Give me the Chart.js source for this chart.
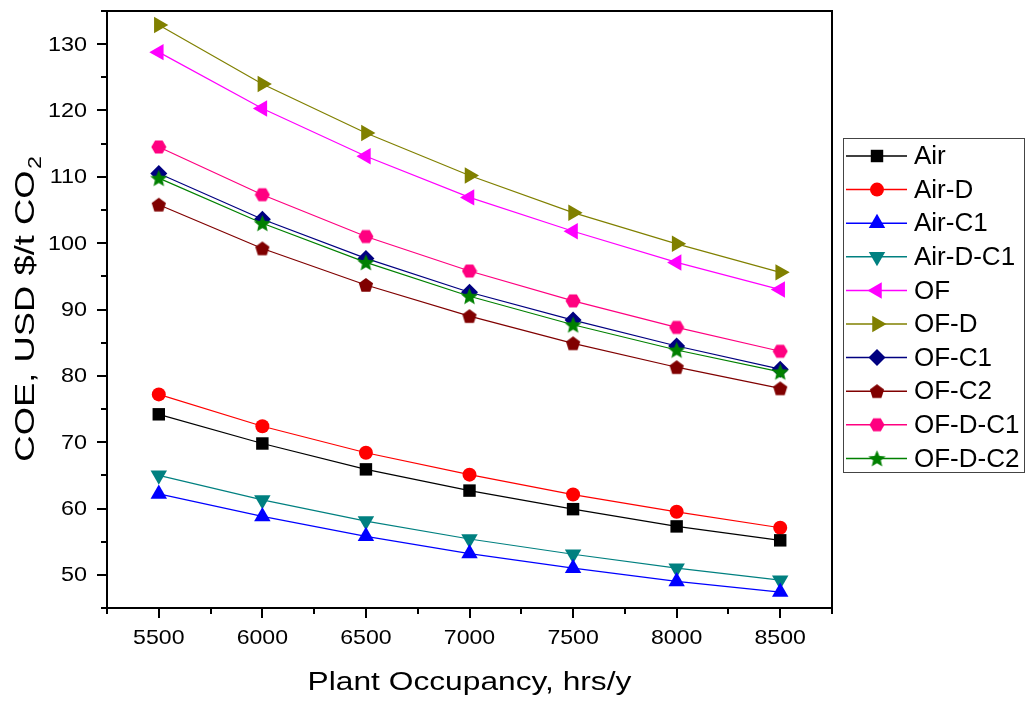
<!DOCTYPE html>
<html>
<head>
<meta charset="utf-8">
<script src="https://cdn.jsdelivr.net/npm/chart.js@4/dist/chart.umd.min.js"></script>
<style>
html,body{margin:0;padding:0;background:#fff;}
#wrap{width:1030px;height:702px;position:relative;}
</style>
</head>
<body>
<div id="wrap"><canvas id="c" width="1030" height="702"></canvas></div>
<script>
// ---- data ----
const occupancy = [5500, 6000, 6500, 7000, 7500, 8000, 8500];
const air    = [74.2, 69.8, 65.9, 62.7, 59.9, 57.3, 55.2];
const airD   = [77.2, 72.4, 68.4, 65.1, 62.1, 59.5, 57.1];
const airC1  = [62.2, 58.8, 55.8, 53.2, 51.0, 49.0, 47.4];
const airDC1 = [65.0, 61.3, 58.1, 55.4, 53.1, 51.0, 49.2];
const of     = [128.8, 120.3, 113.1, 106.9, 101.8, 97.1, 93.0];
const ofD    = [132.9, 124.0, 116.6, 110.2, 104.6, 99.9, 95.6];
const ofC1   = [110.5, 103.6, 97.7, 92.6, 88.4, 84.5, 81.0];
const ofC2   = [105.8, 99.2, 93.7, 89.0, 84.9, 81.3, 78.1];
const ofDC1  = [114.5, 107.3, 101.0, 95.8, 91.3, 87.3, 83.7];
const ofDC2  = [109.8, 103.0, 97.1, 92.0, 87.7, 83.9, 80.6];
const seriesNames = ['Air','Air-D','Air-C1','Air-D-C1','OF','OF-D','OF-C1','OF-C2','OF-D-C1','OF-D-C2'];
const xTickLabels = [5500, 6000, 6500, 7000, 7500, 8000, 8500];
const yTickLabels = [50, 60, 70, 80, 90, 100, 110, 120, 130];
const xTitle = 'Plant Occupancy, hrs/y';
const yTitleMain = 'COE, USD $/t CO';
const yTitleSub = '2';

// ---- marker shapes ----
function makeMarker(kind, color, size) {
  const c = document.createElement('canvas');
  c.width = size; c.height = size;
  const g = c.getContext('2d');
  g.fillStyle = color;
  const cx = size / 2, cy = size / 2, r = size / 2 - 0.5;
  g.beginPath();
  if (kind === 'pentagon') {
    for (let i = 0; i < 5; i++) {
      const a = -Math.PI / 2 + i * 2 * Math.PI / 5;
      const px = cx + r * Math.cos(a), py = cy + 0.6 + r * Math.sin(a);
      i ? g.lineTo(px, py) : g.moveTo(px, py);
    }
  } else if (kind === 'hexagon') {
    for (let i = 0; i < 6; i++) {
      const a = i * Math.PI / 3;
      const px = cx + r * Math.cos(a), py = cy + r * Math.sin(a);
      i ? g.lineTo(px, py) : g.moveTo(px, py);
    }
  } else if (kind === 'star') {
    for (let i = 0; i < 10; i++) {
      const a = -Math.PI / 2 + i * Math.PI / 5;
      const rr = (i % 2) ? r * 0.45 : r;
      const px = cx + rr * Math.cos(a), py = cy + 0.8 + rr * Math.sin(a);
      i ? g.lineTo(px, py) : g.moveTo(px, py);
    }
  }
  g.closePath();
  g.fill();
  return c;
}

const colors = ['#000000','#ff0000','#0000ff','#008080','#ff00ff','#808000','#000080','#800000','#ff0080','#008000'];
const values = [air, airD, airC1, airDC1, of, ofD, ofC1, ofC2, ofDC1, ofDC2];
const styles = [
  {pointStyle:'rect', radius:8.8, rotation:0},
  {pointStyle:'circle', radius:7, rotation:0},
  {pointStyle:'triangle', radius:9.5, rotation:0},
  {pointStyle:'triangle', radius:9.5, rotation:180},
  {pointStyle:'triangle', radius:9.5, rotation:270},
  {pointStyle:'triangle', radius:9.5, rotation:90},
  {pointStyle:'rectRot', radius:8.5, rotation:0},
  {pointStyle:makeMarker('pentagon', colors[7], 16), radius:8, rotation:0},
  {pointStyle:makeMarker('hexagon', colors[8], 16), radius:8, rotation:0},
  {pointStyle:makeMarker('star', colors[9], 19), radius:9, rotation:0}
];

const datasets = seriesNames.map((name, i) => ({
  label: name,
  data: occupancy.map((x, k) => ({x: x, y: values[i][k]})),
  borderColor: colors[i],
  backgroundColor: colors[i],
  borderWidth: 1.2,
  pointStyle: styles[i].pointStyle,
  pointRadius: styles[i].radius,
  pointRotation: styles[i].rotation,
  pointBackgroundColor: colors[i],
  pointBorderColor: colors[i],
  pointBorderWidth: 0,
  tension: 0,
  order: i === 9 ? -1 : i
}));

const FONT = '"Liberation Sans", Arial, sans-serif';

function drawMarker(ctx, st, color, x, y) {
  if (Chart.helpers && Chart.helpers.drawPoint) {
    ctx.save();
    ctx.fillStyle = color; ctx.strokeStyle = color;
    Chart.helpers.drawPoint(ctx, {pointStyle: st.pointStyle, radius: st.radius, rotation: st.rotation, borderWidth: 0}, x, y);
    ctx.restore();
  }
}

const decor = {
  id: 'decor',
  afterDraw(chart) {
    const ctx = chart.ctx, a = chart.chartArea, xs = chart.scales.x, ys = chart.scales.y;
    ctx.save();
    // frame
    ctx.strokeStyle = '#000'; ctx.lineWidth = 2;
    ctx.strokeRect(a.left, a.top, a.right - a.left, a.bottom - a.top);
    // ticks
    ctx.beginPath();
    for (let v = ys.min; v <= ys.max + 0.001; v += 5) {
      const p = Math.round(ys.getPixelForValue(v));
      const len = (v % 10 === 0) ? 10 : 6;
      ctx.moveTo(a.left - len, p); ctx.lineTo(a.left, p);
    }
    for (let v = xs.min; v <= xs.max + 0.001; v += 250) {
      const p = Math.round(xs.getPixelForValue(v));
      const len = (v % 500 === 0) ? 10 : 6;
      ctx.moveTo(p, a.bottom); ctx.lineTo(p, a.bottom + len);
    }
    ctx.stroke();
    ctx.fillStyle = '#000';
    // y tick labels
    ctx.font = '20px ' + FONT;
    ctx.textAlign = 'right'; ctx.textBaseline = 'middle';
    yTickLabels.forEach(v => {
      const p = ys.getPixelForValue(v);
      ctx.save();
      ctx.translate(a.left - 20, p + 1);
      ctx.scale(1.17, 1);
      ctx.fillText(String(v), 0, 0);
      ctx.restore();
    });
    // x tick labels
    ctx.font = '21px ' + FONT;
    ctx.textAlign = 'center'; ctx.textBaseline = 'alphabetic';
    xTickLabels.forEach(v => {
      const p = xs.getPixelForValue(v);
      ctx.save();
      ctx.translate(p, a.bottom + 36);
      ctx.scale(1.1, 1);
      ctx.fillText(String(v), 0, 0);
      ctx.restore();
    });
    // x title
    ctx.save();
    ctx.font = '26px ' + FONT;
    ctx.textAlign = 'center'; ctx.textBaseline = 'alphabetic';
    ctx.translate((a.left + a.right) / 2, 690);
    ctx.scale(1.22, 1);
    ctx.fillText(xTitle, 0, 0);
    ctx.restore();
    // y title
    ctx.save();
    ctx.translate(34, (a.top + a.bottom) / 2);
    ctx.rotate(-Math.PI / 2);
    ctx.scale(1.3, 1);
    ctx.font = '28px ' + FONT;
    const mw = ctx.measureText(yTitleMain).width;
    ctx.font = '18px ' + FONT;
    const sw = ctx.measureText(yTitleSub).width;
    const sx = -(mw + sw) / 2;
    ctx.textAlign = 'left'; ctx.textBaseline = 'alphabetic';
    ctx.font = '28px ' + FONT;
    ctx.fillText(yTitleMain, sx, 0);
    ctx.font = '18px ' + FONT;
    ctx.fillText(yTitleSub, sx + mw + 1, 7);
    ctx.restore();
    // legend
    const lx = 843.5, ly = 138.5, lw = 181, lh = 334;
    ctx.fillStyle = '#fff';
    ctx.fillRect(lx, ly, lw, lh);
    ctx.strokeStyle = '#444'; ctx.lineWidth = 1;
    ctx.strokeRect(lx, ly, lw, lh);
    chart.data.datasets.forEach((ds, i) => {
      const ry = 156 + i * 33.6;
      ctx.strokeStyle = ds.borderColor; ctx.lineWidth = 1.5;
      ctx.beginPath(); ctx.moveTo(846, ry); ctx.lineTo(907, ry); ctx.stroke();
      drawMarker(ctx, {pointStyle: ds.pointStyle, radius: ds.pointRadius, rotation: ds.pointRotation}, ds.borderColor, 877, ry);
      ctx.fillStyle = '#000';
      ctx.font = '26px ' + FONT;
      ctx.textAlign = 'left'; ctx.textBaseline = 'middle';
      ctx.fillText(ds.label, 914, ry + 1);
    });
    ctx.restore();
  }
};

new Chart(document.getElementById('c'), {
  type: 'line',
  data: { datasets: datasets },
  options: {
    responsive: false,
    animation: false,
    devicePixelRatio: 1,
    layout: { padding: { left: 0, right: 198, top: 11, bottom: 0 } },
    plugins: { legend: { display: false }, tooltip: { enabled: false } },
    scales: {
      x: {
        type: 'linear', min: 5250, max: 8750,
        ticks: { display: false, stepSize: 500 },
        grid: { display: false, drawTicks: false },
        border: { display: false },
        afterFit: s => { s.height = 94; }
      },
      y: {
        type: 'linear', min: 45, max: 135,
        ticks: { display: false, stepSize: 10 },
        grid: { display: false, drawTicks: false },
        border: { display: false },
        afterFit: s => { s.width = 107; }
      }
    }
  },
  plugins: [decor]
});
</script>
</body>
</html>
